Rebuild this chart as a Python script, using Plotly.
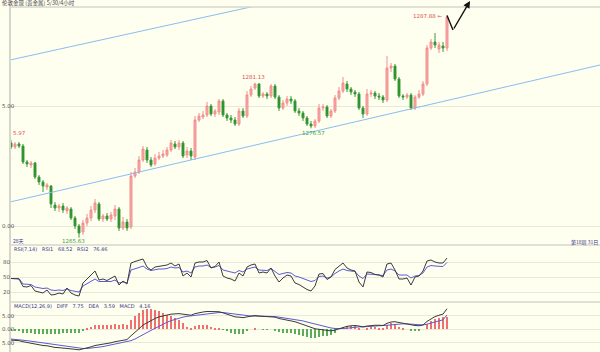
import plotly.graph_objects as go

# ---------------- data ----------------
open_ = [1275.1,1274.7,1275.0,1274.8,1273.2,1272.9,1273.1,1271.7,1271.2,1270.7,
         1270.8,1268.9,1268.6,1268.8,1268.3,1268.5,1267.6,1266.8,1266.2,1267.1,
         1267.6,1268.4,1269.0,1267.5,1267.8,1267.5,1267.8,1268.5,1266.6,1267.2,
         1266.7,1271.8,1272.2,1273.4,1274.4,1273.4,1273.0,1273.6,1273.8,1273.9,
         1274.4,1275.0,1274.7,1275.1,1273.9,1274.3,1273.7,1277.4,1277.7,1277.9,
         1278.8,1278.0,1278.2,1279.3,1277.9,1277.6,1277.4,1277.0,1278.3,1277.8,
         1279.9,1280.6,1281.0,1279.8,1280.0,1279.8,1280.8,1279.7,1278.6,1279.1,
         1279.5,1279.3,1278.3,1278.1,1277.6,1277.0,1276.8,1277.3,1278.6,1278.7,
         1277.8,1278.3,1279.6,1280.3,1281.0,1280.5,1280.2,1280.0,1278.6,1278.0,
         1280.0,1280.1,1279.8,1279.7,1279.4,1282.6,1282.8,1281.5,1279.8,1279.7,
         1279.9,1278.6,1279.7,1280.0,1281.0,1284.6,1285.2,1284.5,1284.8,1284.6]
close = [1274.7,1275.0,1274.8,1273.2,1273.0,1273.1,1271.7,1271.2,1270.8,1270.9,
         1269.0,1268.6,1268.8,1268.4,1268.6,1267.6,1266.8,1266.1,1267.1,1267.6,
         1268.4,1269.1,1267.5,1267.8,1267.5,1267.9,1268.5,1266.6,1267.2,1266.6,
         1271.8,1272.2,1273.4,1274.5,1273.4,1272.9,1273.6,1273.8,1274.0,1274.4,
         1275.1,1274.7,1275.1,1273.8,1274.3,1273.8,1277.4,1277.8,1277.9,1278.8,
         1278.0,1278.3,1279.3,1277.9,1277.6,1277.4,1277.0,1278.3,1277.8,1279.9,
         1280.5,1281.0,1279.8,1280.0,1279.8,1280.8,1279.7,1278.6,1279.1,1279.5,
         1279.3,1278.3,1278.1,1277.6,1277.0,1276.8,1277.3,1278.6,1278.7,1277.8,
         1278.3,1279.6,1280.3,1281.1,1280.5,1280.2,1280.0,1278.6,1278.0,1280.0,
         1280.1,1279.8,1279.7,1279.4,1282.6,1282.8,1281.5,1279.8,1279.7,1279.9,
         1278.6,1279.7,1280.0,1281.0,1284.6,1285.2,1284.9,1284.9,1284.6,1287.7]
high = [1275.4,1275.2,1275.2,1275.0,1273.4,1273.3,1273.2,1271.9,1271.4,1271.1,
        1270.9,1269.2,1269.0,1269.1,1268.8,1268.7,1267.8,1267.0,1267.4,1268.0,
        1268.8,1269.5,1269.2,1268.0,1268.1,1268.2,1268.9,1268.7,1267.7,1267.5,
        1272.2,1272.6,1273.8,1274.8,1274.7,1273.7,1274.0,1274.2,1274.4,1274.7,
        1275.4,1275.3,1275.4,1275.3,1274.7,1274.6,1277.8,1278.1,1278.3,1279.2,
        1279.0,1278.5,1279.5,1279.5,1278.1,1277.9,1277.7,1278.6,1278.6,1280.3,
        1280.8,1281.13,1281.1,1280.2,1280.2,1281.0,1281.0,1279.9,1279.4,1279.8,
        1279.8,1279.5,1278.6,1278.3,1277.8,1277.3,1277.5,1279.0,1279.0,1278.9,
        1278.5,1279.9,1280.7,1281.7,1281.3,1280.7,1280.4,1280.2,1278.8,1280.5,
        1280.4,1280.3,1280.1,1279.9,1283.8,1283.1,1283.0,1281.7,1280.0,1280.1,
        1280.1,1279.9,1280.4,1281.3,1284.9,1285.5,1286.1,1285.2,1285.2,1287.88]
low = [1274.5,1274.5,1274.6,1273.0,1272.7,1272.6,1271.5,1270.9,1270.2,1270.4,
       1268.6,1268.3,1268.2,1268.1,1268.0,1267.4,1266.5,1265.63,1265.9,1266.8,
       1267.3,1268.1,1267.3,1267.2,1267.3,1267.2,1267.4,1266.3,1266.4,1266.3,
       1266.5,1271.6,1272.0,1273.2,1273.1,1272.7,1272.8,1273.4,1273.6,1273.7,
       1274.2,1274.5,1274.4,1273.6,1273.6,1273.4,1273.4,1277.2,1277.5,1277.7,
       1277.8,1277.7,1277.9,1277.7,1277.3,1277.1,1276.8,1276.8,1277.6,1277.6,
       1279.7,1280.4,1279.6,1279.6,1279.5,1279.6,1279.5,1278.3,1278.4,1278.8,
       1279.0,1278.1,1277.8,1277.3,1276.8,1276.57,1276.6,1277.1,1278.3,1277.6,
       1277.6,1278.1,1279.4,1280.1,1280.2,1279.9,1279.7,1278.4,1277.6,1277.8,
       1279.7,1279.5,1279.4,1279.1,1279.2,1282.2,1281.3,1279.6,1279.4,1279.5,
       1278.4,1278.4,1279.5,1279.8,1280.8,1284.4,1284.6,1284.1,1284.2,1284.3]

rsi1 = [47,47,46,31,30,33,22,20,18,24,14,15,18,16,28,18,14,12,38,46,
        55,62,44,46,43,47,52,34,42,36,78,81,83,86,70,64,70,71,72,74,
        78,72,76,52,58,50,78,80,80,83,68,71,80,52,48,46,42,58,52,70,
        74,76,58,60,58,68,52,40,48,54,52,38,35,30,25,22,32,56,57,45,
        50,65,72,78,68,64,62,40,30,60,59,55,54,50,76,78,64,46,46,48,
        34,50,52,62,82,84,80,78,78,88]
rsi2 = [47,47,47,36,35,35,30,28,27,28,24,23,24,23,26,23,21,20,32,37,
        42,46,41,41,40,41,44,38,40,38,64,66,69,72,66,63,65,66,66,67,
        70,68,69,60,62,58,70,72,72,74,69,70,73,64,62,60,58,63,60,66,
        68,70,64,64,63,67,61,55,57,59,58,52,50,47,43,41,43,51,52,48,
        50,57,62,66,63,62,61,52,47,56,56,55,54,53,64,66,62,54,54,54,
        48,52,53,58,70,73,72,72,71,79]

diff = [-4.0,-4.1,-4.2,-4.6,-4.9,-5.1,-5.5,-5.8,-6.0,-6.1,
        -6.5,-6.7,-6.8,-6.9,-7.0,-7.2,-7.4,-7.6,-7.3,-7.0,
        -6.5,-6.0,-5.8,-5.6,-5.3,-5.0,-4.6,-4.4,-4.0,-3.8,
        -2.4,-1.2,0.2,1.6,2.5,3.3,4.0,4.6,5.0,5.3,
        5.6,5.7,5.8,5.6,5.3,5.2,5.8,6.2,6.4,6.6,
        6.5,6.4,6.5,6.1,5.6,5.1,4.6,4.5,4.3,4.6,
        4.9,5.1,4.9,4.8,4.7,4.8,4.5,4.0,3.7,3.5,
        3.3,2.8,2.3,1.8,1.2,0.6,0.2,0.0,-0.2,-0.5,
        -0.6,-0.3,0.2,0.8,1.1,1.3,1.4,1.2,0.9,1.2,
        1.4,1.5,1.5,1.4,2.2,2.7,2.8,2.5,2.2,2.0,
        1.5,1.4,1.3,1.6,2.9,3.9,4.7,5.2,5.6,7.6]
dea = [-3.6,-3.7,-3.8,-4.0,-4.2,-4.4,-4.6,-4.9,-5.1,-5.3,
       -5.6,-5.8,-6.0,-6.2,-6.4,-6.6,-6.8,-7.0,-7.1,-7.1,
       -7.0,-6.8,-6.6,-6.4,-6.1,-5.8,-5.5,-5.2,-4.9,-4.6,
       -4.2,-3.6,-2.9,-2.0,-1.2,-0.4,0.4,1.2,1.9,2.6,
       3.2,3.7,4.1,4.5,4.8,5.0,5.2,5.4,5.6,5.8,
       6.0,6.1,6.2,6.2,6.0,5.8,5.5,5.3,5.1,5.0,
       4.9,4.9,4.9,4.9,4.8,4.8,4.7,4.5,4.3,4.1,
       3.9,3.7,3.4,3.1,2.7,2.3,1.9,1.5,1.1,0.8,
       0.5,0.3,0.2,0.3,0.4,0.6,0.8,0.9,0.9,1.0,
       1.0,1.1,1.2,1.2,1.4,1.6,1.8,2.0,2.0,2.0,
       1.9,1.8,1.7,1.6,1.9,2.3,2.7,3.1,3.5,5.3]
macd_hist = [-0.8,-0.8,-0.8,-1.2,-1.4,-1.4,-1.8,-1.8,-1.8,-1.6,
             -1.8,-1.8,-1.6,-1.4,-1.2,-1.2,-1.2,-1.2,-0.4,0.2,
             1.0,1.6,1.6,1.6,1.6,1.6,1.8,1.6,1.8,1.6,
             3.6,4.8,6.2,7.2,7.4,7.4,7.2,6.8,6.2,5.4,
             4.8,4.0,3.4,2.2,1.0,0.4,1.2,1.6,1.6,1.6,
             1.0,0.6,0.6,-0.2,-0.8,-1.4,-1.8,-1.6,-1.6,-0.8,
             0.0,0.4,0.0,-0.2,-0.2,0.0,-0.4,-1.0,-1.2,-1.2,
             -1.2,-1.8,-2.2,-2.6,-3.0,-3.4,-3.4,-3.0,-2.6,-2.6,
             -2.2,-1.2,0.0,1.0,1.4,1.4,1.2,0.6,0.0,0.4,
             0.8,0.8,0.6,0.4,1.6,2.2,2.0,1.0,0.4,0.0,
             -0.8,-0.8,-0.8,0.0,2.0,3.0,3.8,4.2,4.4,4.6]

# channel lines (bar index, price)
upper_x = [-0.25, 147.25]
upper_y = [1283.4, 1296.4]
lower_x = [-0.25, 147.25]
lower_y = [1269.2, 1282.9]
# hand-drawn arrow path (bar index, price)
arrow_x = [109.0, 110.5, 114.75]
arrow_y = [1287.85, 1286.4, 1289.3]

main_ticks = [1278.8, 1266.8]
main_ticktext = ["5.00", "0.00"]
rsi_ticks = [80, 50, 20]
macd_ticks = [5, 0, -5]
macd_ticktext = ["5.00", "0.00", "5.00"]

idx = list(range(len(close)))

# ---------------- figure ----------------
BG = "#FFFFF0"
GRID = "#E9E9DA"
BORDER = "#D6D6CC"
FONT = "DejaVu Sans"

fig = go.Figure()
fig.add_trace(go.Candlestick(
    x=idx, open=open_, high=high, low=low, close=close,
    increasing=dict(fillcolor="#F7AAAA", line=dict(color="#F28E8E", width=1)),
    decreasing=dict(fillcolor="#1F8A1F", line=dict(color="#3C9A3C", width=1)),
    whiskerwidth=0, xaxis="x", yaxis="y", showlegend=False, hoverinfo="skip"))
fig.add_trace(go.Scatter(x=upper_x, y=upper_y, mode="lines",
                         line=dict(color="#86BDF2", width=1), xaxis="x", yaxis="y", showlegend=False))
fig.add_trace(go.Scatter(x=lower_x, y=lower_y, mode="lines",
                         line=dict(color="#86BDF2", width=1), xaxis="x", yaxis="y", showlegend=False))
fig.add_trace(go.Scatter(x=arrow_x[:2], y=arrow_y[:2], mode="lines",
                         line=dict(color="#111111", width=1.4), xaxis="x", yaxis="y", showlegend=False))

# RSI
fig.add_trace(go.Scatter(x=idx, y=rsi2, mode="lines", line=dict(color="#5B5BD6", width=1),
                         xaxis="x2", yaxis="y2", showlegend=False))
fig.add_trace(go.Scatter(x=idx, y=rsi1, mode="lines", line=dict(color="#3A3A3A", width=1),
                         xaxis="x2", yaxis="y2", showlegend=False))

# MACD
bar_colors = ["#F07070" if v >= 0 else "#5AAE5A" for v in macd_hist]
fig.add_trace(go.Bar(x=idx, y=macd_hist, marker=dict(color=bar_colors, line=dict(width=0)),
                     width=0.28, xaxis="x3", yaxis="y3", showlegend=False))
fig.add_trace(go.Scatter(x=idx, y=dea, mode="lines", line=dict(color="#5B5BD6", width=1),
                         xaxis="x3", yaxis="y3", showlegend=False))
fig.add_trace(go.Scatter(x=idx, y=diff, mode="lines", line=dict(color="#3A3A3A", width=1),
                         xaxis="x3", yaxis="y3", showlegend=False))

xr = [-0.25, 147.25]
xd = [10/600, 1]
def ydom(top_px, bot_px):
    return [1 - bot_px/352, 1 - top_px/352]

common_x = dict(range=xr, domain=xd, showgrid=False, showticklabels=False, zeroline=False,
                showline=False, ticks="", fixedrange=True)
fig.update_layout(
    width=600, height=352, margin=dict(l=0, r=0, t=0, b=0),
    paper_bgcolor=BG, plot_bgcolor=BG, bargap=0,
    xaxis=dict(**common_x, anchor="y", rangeslider=dict(visible=False)),
    xaxis2=dict(**common_x, anchor="y2"),
    xaxis3=dict(**common_x, anchor="y3"),
    yaxis=dict(domain=ydom(7, 245), range=[1264.9, 1288.7], tickvals=main_ticks,
               showticklabels=False, showgrid=True, gridcolor=GRID, gridwidth=1, zeroline=False),
    yaxis2=dict(domain=ydom(245, 302), range=[0, 114], tickvals=rsi_ticks,
                showticklabels=False, showgrid=True, gridcolor=GRID, gridwidth=1, zeroline=False),
    yaxis3=dict(domain=ydom(302, 352), range=[-8.4, 10.1], tickvals=macd_ticks,
                showticklabels=False, showgrid=True, gridcolor=GRID, gridwidth=1, zeroline=False),
    font=dict(family=FONT, size=6, color="#555555"),
)

# borders / separators
shapes = []
for ypx in [7, 245, 302]:
    shapes.append(dict(type="line", xref="paper", yref="paper", x0=10/600, x1=1,
                       y0=1 - ypx/352, y1=1 - ypx/352, line=dict(color=BORDER, width=1.5)))
shapes.append(dict(type="line", xref="paper", yref="paper", x0=10/600, x1=10/600,
                   y0=0, y1=1, line=dict(color=BORDER, width=2)))
fig.update_layout(shapes=shapes)

ann = []
def txt(x, y, s, color="#555555", size=5.5, xanchor="left", xref="paper", yref="paper"):
    ann.append(dict(x=x, y=y, xref=xref, yref=yref, text=s, showarrow=False,
                    xanchor=xanchor, yanchor="middle", font=dict(size=size, color=color, family=FONT)))

# left axis labels
for v, t in zip(main_ticks, main_ticktext):
    txt(0, v, t, xref="paper", yref="y")
for v in rsi_ticks:
    txt(0.001, v, str(v), xref="paper", yref="y2")
for v, t in zip(macd_ticks, macd_ticktext):
    txt(0, v, t, xref="paper", yref="y3")

# header texts
ann.append(dict(x=0, y=1 - 3.5/352, xref="paper", yref="paper", text="伦敦金现 (贵金属) 5/30/4小时",
                showarrow=False, xanchor="left", yanchor="middle",
                font=dict(size=5.5, color="#444444", family="Noto Sans CJK SC")))
txt(12/600, 1 - 248.5/352, "RSI(7,14)   RSI1   68.52   RSI2   76.46", color="#333388", size=5)
txt(12/600, 1 - 305.5/352, "MACD(12,26,9)   DIFF   7.75   DEA   3.59   MACD   4.16", color="#333388", size=5)
ann.append(dict(x=11/600, y=1 - 241/352, xref="paper", yref="paper", text="28天", showarrow=False,
                xanchor="left", yanchor="middle", font=dict(size=5, color="#333388", family="Noto Sans CJK SC")))
ann.append(dict(x=1, y=1 - 241.5/352, xref="paper", yref="paper", text="第18周 31日", showarrow=False,
                xanchor="right", yanchor="middle", font=dict(size=5, color="#333388", family="Noto Sans CJK SC")))

# price markers
txt(60.5, 1281.75, "1281.13", color="#E05050", xanchor="center", xref="x", yref="y")
txt(75.5, 1276.1, "1276.57", color="#40A040", xanchor="center", xref="x", yref="y")
txt(15.5, 1265.3, "1265.63", color="#40A040", xanchor="center", xref="x", yref="y")
txt(0.0, 1276.1, "5.97", color="#E05050", xanchor="left", xref="x", yref="y")
txt(108.3, 1287.85, "1287.88 ←", color="#E05050", xanchor="right", xref="x", yref="y")

# arrow head segment
ann.append(dict(x=arrow_x[2], y=arrow_y[2], ax=arrow_x[1], ay=arrow_y[1], xref="x", yref="y",
                axref="x", ayref="y", showarrow=True, arrowhead=2, arrowsize=1, arrowwidth=1.4,
                arrowcolor="#111111", text=""))
fig.update_layout(annotations=ann)

fig.write_html("out.html")
